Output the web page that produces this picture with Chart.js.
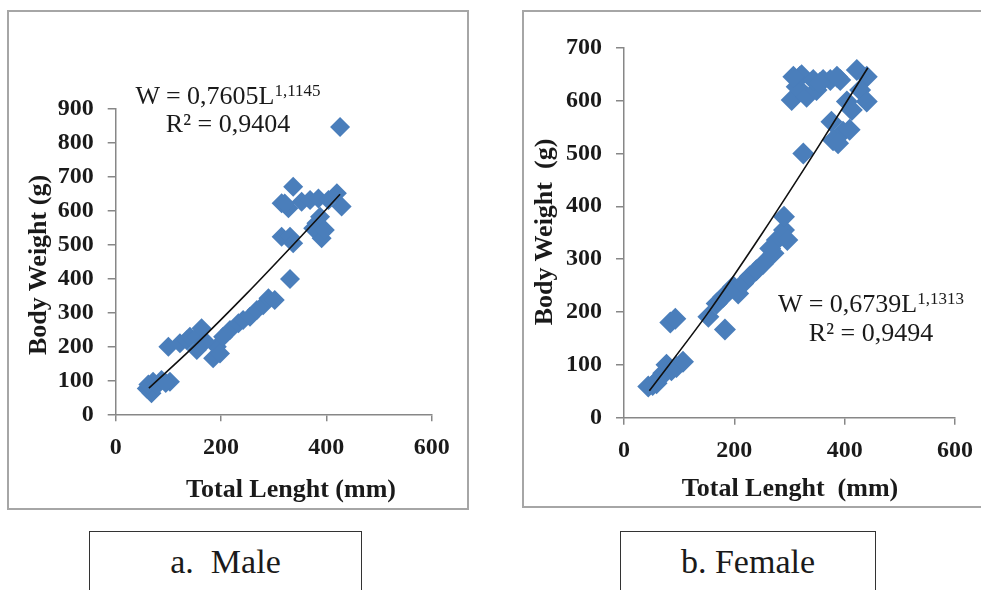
<!DOCTYPE html>
<html>
<head>
<meta charset="utf-8">
<script src="https://cdn.jsdelivr.net/npm/chart.js@4.4.1/dist/chart.umd.min.js"></script>
<style>
  html, body { margin:0; padding:0; background:#fff; width:981px; height:590px; overflow:hidden; }
  body { position:relative; font-family:'Liberation Serif','Times New Roman',serif; color:#1a1a1a; }
  .box { position:absolute; border:2px solid #a6a6a6; box-sizing:border-box; }
  .cap { position:absolute; border:1.5px solid #333; box-sizing:border-box; }
  .txt { position:absolute; white-space:pre; text-align:center; }
  .eq { font-size:26px; line-height:26px; }
  .ttl { font-size:26px; line-height:26px; font-weight:bold; }
  canvas { position:absolute; }
</style>
</head>
<body>
<div class="box" style="left:7px;top:10px;width:462px;height:500px;"></div>
<div class="box" style="left:522px;top:10px;width:480px;height:498px;"></div>

<canvas id="male" width="455" height="495" style="left:8px;top:12px;width:455px;height:495px;"></canvas>
<canvas id="female" width="458" height="494" style="left:523px;top:12px;width:458px;height:494px;"></canvas>

<!-- equations -->
<div class="txt eq" style="left:78px;top:78px;width:300px;">W = 0,7605L<span style="font-size:17px;vertical-align:8px;">1,1145</span></div>
<div class="txt eq" style="left:78px;top:111px;width:300px;">R² = 0,9404</div>
<div class="txt eq" style="left:721px;top:286px;width:300px;">W = 0,6739L<span style="font-size:17px;vertical-align:8px;">1,1313</span></div>
<div class="txt eq" style="left:721px;top:320px;width:300px;">R² = 0,9494</div>

<!-- axis titles -->
<div class="txt ttl" style="left:141px;top:476px;width:300px;">Total Lenght (mm)</div>
<div class="txt ttl" style="left:640px;top:475px;width:300px;">Total Lenght  (mm)</div>
<div class="txt ttl" style="left:-112px;top:252px;width:300px;transform:rotate(-90deg);">Body Weight (g)</div>
<div class="txt ttl" style="left:394px;top:219px;width:300px;transform:rotate(-90deg);">Body Weight  (g)</div>

<!-- captions -->
<div class="cap" style="left:89px;top:531px;width:273px;height:80px;"></div>
<div class="txt" style="left:89px;top:542px;width:273px;font-size:34px;line-height:40px;">a.  Male</div>
<div class="cap" style="left:620px;top:531px;width:256px;height:80px;"></div>
<div class="txt" style="left:620px;top:542px;width:256px;font-size:34px;line-height:40px;">b. Female</div>

<script>
// ---- Male data (Total length mm, Body weight g) ----
const maleLength = [59,68,71,62,87,103,78,95,
  100,122,135,141,154,163,154,185,192,198,170,
  204,217,233,242,255,268,280,290,302,
  331,315,331,337,315,328,337,353,369,385,404,420,429,426,381,388,391,375,321,397];
const maleWeight = [76,62,96,88,101,96,85,92,
  199,209,218,228,228,253,189,165,199,179,215,
  228,248,268,277,287,307,321,341,336,
  398,522,522,503,621,606,669,625,630,635,630,650,611,845,562,581,518,547,620,542];
// trend line points
const maleTrendL = [63,150,250,350,426];
const maleTrendW = [77,202,357,520,647];

// ---- Female data ----
const femaleLength = [44,59,71,77,86,95,107,65,52,
  84,93,183,
  153,168,180,198,207,216,228,240,252,271,277,290,296,290,265,
  325,304,319,313,331,349,361,374,392,386,422,440,428,440,404,413,376,397,409,379,388,322,343,355,307];
const femaleWeight = [59,65,84,100,90,96,106,75,62,
  180,187,167,
  191,216,229,248,235,254,267,279,291,311,336,355,336,380,320,
  500,601,645,626,607,620,639,639,639,645,658,645,620,598,598,582,560,541,545,525,519,648,639,633,645];
const femaleTrendL = [46,150,250,350,442];
const femaleTrendW = [51,195,348,509,662];

// tick settings
const maleYTicks = {min:0, max:900, step:100};
const femaleYTicks = {min:0, max:700, step:100};
const xTicks = {min:0, max:600, step:200};

const BLUE = '#4a7ebb';
const AXIS = '#878787';
const tickFont = {family:"'Liberation Serif','Times New Roman',serif", weight:'bold', size:24};

function pts(xs, ys){ return xs.map((x,i)=>({x:x, y:ys[i]})); }

function makeChart(id, L, W, TL, TW, yT, area, radius){
  const cv = document.getElementById(id);
  const cw = cv.width, ch = cv.height;
  new Chart(cv, {
    data: {
      datasets: [
        {type:'line', data:pts(TL,TW), borderColor:'#111', borderWidth:1.6, pointRadius:0,
         fill:false, tension:0.3, order:0},
        {type:'scatter', data:pts(L,W), pointStyle:'rectRot', pointRadius:radius,
         pointHoverRadius:radius, backgroundColor:BLUE, borderWidth:0, order:1}
      ]
    },
    options: {
      responsive:false, animation:false, devicePixelRatio:1,
      layout:{padding:{top:area.top, right:cw-area.right, left:0, bottom:0}},
      plugins:{legend:{display:false}, tooltip:{enabled:false}},
      events:[],
      scales:{
        x:{type:'linear', min:xTicks.min, max:xTicks.max,
           ticks:{stepSize:xTicks.step, font:tickFont, color:'#1a1a1a', padding:12, maxRotation:0},
           grid:{drawOnChartArea:false, drawTicks:true, tickLength:7, color:AXIS, lineWidth:1.5},
           border:{color:AXIS, width:1.5},
           afterFit:(s)=>{ s.height = ch-area.bottom; s.paddingLeft=0; s.paddingRight=0; }},
        y:{type:'linear', min:yT.min, max:yT.max,
           ticks:{stepSize:yT.step, font:tickFont, color:'#1a1a1a', padding:14},
           grid:{drawOnChartArea:false, drawTicks:true, tickLength:8, color:AXIS, lineWidth:1.5},
           border:{color:AXIS, width:1.5},
           afterFit:(s)=>{ s.width = area.left; s.paddingTop=0; s.paddingBottom=0; }}
      }
    }
  });
}

makeChart('male', maleLength, maleWeight, maleTrendL, maleTrendW, maleYTicks,
  {left:107.7, top:96.3, right:423.7, bottom:402.3}, 10);
makeChart('female', femaleLength, femaleWeight, femaleTrendL, femaleTrendW, femaleYTicks,
  {left:101, top:35.7, right:432, bottom:405.7}, 11);
</script>
</body>
</html>
